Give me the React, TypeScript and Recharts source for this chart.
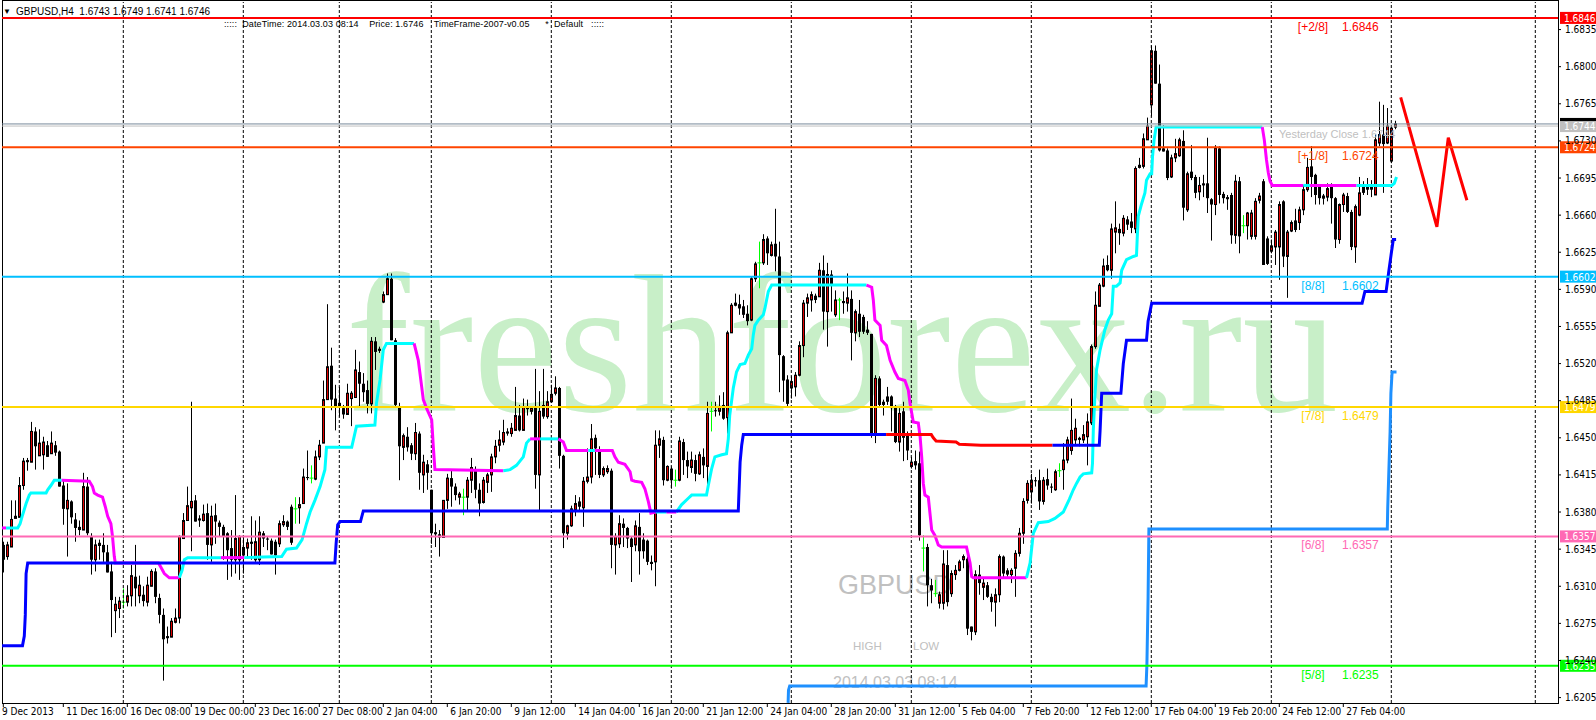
import React from "react";
import { ComposedChart, Bar, Line, XAxis, YAxis, ReferenceLine } from "recharts";

// GBPUSD H4 candles, bars 1..349. Prices kept as the four digits after "1." (6746 -> 1.6746)
const openP = [
  6349, 6338, 6347, 6374, 6375, 6405, 6429, 6427, 6456, 6433, 6434, 6443, 6435, 6443, 6437, 6405, 6383, 6390, 6373, 6366,
  6363, 6404, 6357, 6335, 6351, 6349, 6342, 6324, 6287, 6289, 6295, 6295, 6301, 6319, 6301, 6302, 6295, 6310, 6324, 6299,
  6283, 6263, 6262, 6276, 6280, 6355, 6372, 6384, 6391, 6374, 6372, 6379, 6349, 6377, 6370, 6366, 6360, 6346, 6335, 6335,
  6347, 6346, 6352, 6335, 6335, 6360, 6355, 6353, 6352, 6350, 6368, 6371, 6385, 6383, 6384, 6388, 6413, 6412, 6411, 6432,
  6445, 6486, 6518, 6487, 6483, 6478, 6472, 6487, 6488, 6512, 6501, 6495, 6482, 6541, 6534, 6578, 6585, 6600, 6542, 6479,
  6441, 6451, 6443, 6435, 6454, 6415, 6425, 6401, 6361, 6359, 6356, 6391, 6412, 6404, 6394, 6394, 6394, 6410, 6420, 6401,
  6389, 6408, 6415, 6432, 6443, 6446, 6456, 6454, 6457, 6471, 6457, 6479, 6475, 6479, 6415, 6481, 6470, 6484, 6492, 6497,
  6433, 6360, 6367, 6382, 6390, 6384, 6409, 6413, 6450, 6437, 6415, 6418, 6419, 6349, 6350, 6369, 6365, 6355, 6349, 6366,
  6354, 6353, 6333, 6333, 6443, 6448, 6410, 6421, 6410, 6410, 6446, 6429, 6422, 6429, 6416, 6432, 6423, 6475, 6476, 6475,
  6481, 6469, 6549, 6575, 6576, 6574, 6567, 6561, 6600, 6615, 6615, 6638, 6622, 6633, 6621, 6527, 6505, 6497, 6498, 6509,
  6537, 6577, 6580, 6584, 6583, 6608, 6569, 6604, 6566, 6580, 6579, 6577, 6581, 6549, 6567, 6564, 6552, 6548, 6454, 6506,
  6484, 6489, 6489, 6479, 6446, 6475, 6453, 6423, 6428, 6426, 6346, 6347, 6311, 6303, 6294, 6294, 6330, 6303, 6321, 6325,
  6335, 6336, 6272, 6267, 6321, 6309, 6311, 6300, 6295, 6302, 6338, 6325, 6321, 6327, 6341, 6360, 6391, 6399, 6410, 6410,
  6390, 6411, 6404, 6401, 6419, 6420, 6429, 6438, 6448, 6450, 6448, 6451, 6464, 6536, 6574, 6593, 6613, 6608, 6644, 6647,
  6643, 6656, 6654, 6647, 6705, 6706, 6731, 6764, 6815, 6784, 6723, 6721, 6696, 6714, 6716, 6730, 6665, 6701, 6696, 6682,
  6690, 6690, 6675, 6670, 6723, 6680, 6677, 6679, 6641, 6692, 6650, 6650, 6640, 6640, 6674, 6692, 6638, 6626, 6630, 6630,
  6673, 6621, 6645, 6655, 6653, 6665, 6684, 6706, 6698, 6687, 6676, 6677, 6687, 6676, 6637, 6670, 6678, 6663, 6630, 6660,
  6688, 6687, 6687, 6679, 6728, 6736, 6728, 6711, 6743,
];
const highP = [
  6352, 6352, 6391, 6391, 6413, 6431, 6431, 6465, 6460, 6458, 6451, 6447, 6456, 6447, 6438, 6410, 6407, 6391, 6379, 6372,
  6417, 6413, 6360, 6354, 6354, 6360, 6349, 6333, 6300, 6300, 6308, 6311, 6330, 6349, 6320, 6310, 6319, 6326, 6327, 6303,
  6289, 6272, 6280, 6289, 6358, 6379, 6404, 6484, 6396, 6377, 6387, 6388, 6386, 6388, 6372, 6368, 6361, 6363, 6396, 6358,
  6357, 6355, 6376, 6372, 6376, 6362, 6357, 6355, 6354, 6372, 6377, 6372, 6387, 6394, 6394, 6421, 6438, 6424, 6438, 6448,
  6504, 6576, 6535, 6500, 6498, 6481, 6501, 6494, 6533, 6522, 6511, 6504, 6545, 6545, 6536, 6588, 6605, 6605, 6544, 6483,
  6454, 6460, 6445, 6464, 6456, 6434, 6429, 6401, 6369, 6363, 6391, 6416, 6420, 6407, 6399, 6402, 6413, 6431, 6423, 6407,
  6413, 6417, 6435, 6448, 6457, 6467, 6459, 6464, 6498, 6481, 6487, 6486, 6479, 6515, 6494, 6515, 6494, 6500, 6508, 6498,
  6434, 6368, 6386, 6396, 6394, 6413, 6440, 6463, 6453, 6442, 6423, 6424, 6421, 6360, 6377, 6374, 6366, 6357, 6372, 6379,
  6360, 6354, 6339, 6457, 6457, 6451, 6424, 6423, 6420, 6451, 6449, 6437, 6437, 6434, 6437, 6440, 6484, 6484, 6484, 6490,
  6493, 6551, 6577, 6586, 6585, 6580, 6575, 6602, 6616, 6635, 6642, 6640, 6635, 6666, 6635, 6528, 6509, 6508, 6512, 6541,
  6580, 6586, 6588, 6586, 6615, 6622, 6615, 6608, 6589, 6582, 6588, 6605, 6589, 6571, 6580, 6566, 6560, 6548, 6509, 6508,
  6486, 6498, 6490, 6481, 6478, 6484, 6456, 6432, 6438, 6437, 6358, 6350, 6317, 6316, 6305, 6344, 6344, 6325, 6330, 6335,
  6340, 6338, 6272, 6325, 6330, 6317, 6314, 6303, 6308, 6340, 6339, 6327, 6327, 6344, 6365, 6393, 6410, 6416, 6413, 6420,
  6413, 6421, 6407, 6420, 6426, 6445, 6451, 6487, 6468, 6451, 6462, 6473, 6538, 6588, 6596, 6619, 6622, 6652, 6673, 6652,
  6660, 6659, 6662, 6706, 6714, 6737, 6752, 6820, 6820, 6802, 6745, 6723, 6717, 6732, 6733, 6740, 6701, 6726, 6698, 6696,
  6698, 6733, 6676, 6726, 6725, 6682, 6679, 6681, 6698, 6696, 6660, 6663, 6665, 6676, 6681, 6694, 6640, 6637, 6646, 6673,
  6674, 6646, 6655, 6666, 6668, 6688, 6714, 6725, 6699, 6688, 6680, 6690, 6690, 6677, 6671, 6681, 6681, 6665, 6670, 6696,
  6692, 6695, 6693, 6736, 6767, 6764, 6761, 6744, 6749,
];
const lowP = [
  6323, 6335, 6347, 6374, 6375, 6401, 6419, 6427, 6420, 6433, 6420, 6432, 6435, 6433, 6404, 6368, 6338, 6369, 6352, 6358,
  6363, 6358, 6321, 6324, 6335, 6333, 6323, 6262, 6266, 6280, 6289, 6291, 6291, 6291, 6294, 6291, 6291, 6310, 6294, 6275,
  6221, 6256, 6262, 6275, 6275, 6355, 6372, 6343, 6371, 6366, 6371, 6335, 6333, 6350, 6357, 6335, 6316, 6319, 6322, 6316,
  6322, 6336, 6335, 6333, 6330, 6347, 6344, 6340, 6321, 6347, 6366, 6363, 6349, 6369, 6369, 6388, 6410, 6407, 6410, 6429,
  6445, 6486, 6476, 6457, 6470, 6468, 6472, 6461, 6488, 6479, 6484, 6473, 6473, 6514, 6530, 6577, 6585, 6542, 6479, 6410,
  6429, 6437, 6429, 6429, 6401, 6398, 6401, 6350, 6347, 6338, 6356, 6383, 6385, 6391, 6387, 6377, 6382, 6398, 6393, 6376,
  6388, 6398, 6399, 6426, 6437, 6443, 6452, 6451, 6457, 6456, 6457, 6471, 6472, 6402, 6380, 6468, 6468, 6483, 6490, 6421,
  6346, 6354, 6366, 6376, 6380, 6366, 6407, 6407, 6415, 6412, 6413, 6416, 6327, 6321, 6346, 6347, 6346, 6314, 6343, 6321,
  6336, 6330, 6325, 6310, 6431, 6405, 6409, 6402, 6404, 6409, 6415, 6412, 6417, 6409, 6415, 6412, 6405, 6456, 6470, 6471,
  6467, 6454, 6549, 6574, 6566, 6563, 6556, 6560, 6597, 6591, 6613, 6613, 6621, 6607, 6493, 6484, 6479, 6487, 6489, 6508,
  6526, 6564, 6569, 6577, 6583, 6552, 6536, 6569, 6564, 6561, 6567, 6569, 6523, 6541, 6545, 6548, 6547, 6450, 6445, 6479,
  6471, 6481, 6456, 6445, 6437, 6428, 6429, 6421, 6420, 6353, 6324, 6291, 6294, 6300, 6289, 6288, 6291, 6300, 6316, 6324,
  6327, 6264, 6259, 6264, 6302, 6297, 6299, 6286, 6272, 6295, 6317, 6319, 6313, 6300, 6338, 6350, 6388, 6388, 6404, 6382,
  6387, 6401, 6398, 6400, 6413, 6401, 6426, 6434, 6443, 6442, 6445, 6424, 6462, 6534, 6574, 6592, 6607, 6600, 6624, 6632,
  6640, 6646, 6643, 6643, 6704, 6704, 6731, 6753, 6784, 6720, 6720, 6693, 6695, 6710, 6715, 6655, 6663, 6693, 6676, 6674,
  6677, 6662, 6636, 6660, 6671, 6671, 6665, 6633, 6633, 6624, 6643, 6637, 6637, 6637, 6671, 6613, 6613, 6624, 6613, 6599,
  6611, 6582, 6644, 6644, 6646, 6660, 6682, 6677, 6670, 6670, 6670, 6673, 6652, 6629, 6633, 6663, 6662, 6627, 6615, 6659,
  6679, 6679, 6677, 6679, 6725, 6681, 6727, 6709, 6741,
];
const closeP = [
  6335, 6349, 6373, 6376, 6405, 6428, 6427, 6456, 6442, 6445, 6446, 6432, 6445, 6436, 6404, 6383, 6391, 6375, 6365, 6363,
  6404, 6360, 6335, 6349, 6348, 6342, 6323, 6297, 6293, 6296, 6295, 6301, 6320, 6308, 6311, 6296, 6311, 6324, 6300, 6283,
  6260, 6261, 6277, 6280, 6357, 6372, 6386, 6390, 6371, 6372, 6378, 6349, 6376, 6371, 6366, 6357, 6344, 6335, 6355, 6357,
  6339, 6351, 6350, 6352, 6361, 6355, 6354, 6340, 6339, 6369, 6371, 6366, 6351, 6383, 6387, 6413, 6412, 6412, 6432, 6443,
  6486, 6517, 6486, 6479, 6480, 6472, 6492, 6492, 6514, 6501, 6493, 6482, 6541, 6531, 6532, 6585, 6600, 6542, 6481, 6442,
  6452, 6441, 6435, 6455, 6417, 6427, 6417, 6360, 6359, 6356, 6391, 6412, 6404, 6396, 6397, 6394, 6410, 6422, 6401, 6388,
  6410, 6415, 6432, 6442, 6448, 6455, 6454, 6459, 6471, 6457, 6479, 6477, 6478, 6415, 6475, 6470, 6484, 6491, 6497, 6433,
  6360, 6367, 6383, 6388, 6385, 6409, 6413, 6449, 6440, 6415, 6421, 6421, 6349, 6357, 6369, 6365, 6355, 6347, 6367, 6343,
  6343, 6333, 6331, 6443, 6449, 6410, 6423, 6410, 6410, 6447, 6429, 6423, 6429, 6416, 6434, 6424, 6473, 6475, 6475, 6479,
  6468, 6549, 6575, 6577, 6572, 6566, 6560, 6600, 6614, 6615, 6637, 6624, 6632, 6621, 6528, 6504, 6482, 6503, 6509, 6537,
  6577, 6582, 6585, 6580, 6608, 6569, 6604, 6594, 6580, 6580, 6577, 6582, 6549, 6569, 6550, 6550, 6549, 6454, 6506, 6481,
  6481, 6484, 6478, 6446, 6473, 6450, 6438, 6427, 6424, 6358, 6346, 6311, 6306, 6303, 6302, 6331, 6295, 6322, 6325, 6333,
  6338, 6270, 6267, 6321, 6313, 6313, 6300, 6295, 6302, 6338, 6322, 6321, 6325, 6341, 6360, 6390, 6407, 6410, 6409, 6390,
  6410, 6405, 6403, 6418, 6419, 6429, 6448, 6457, 6459, 6448, 6453, 6465, 6536, 6575, 6594, 6612, 6608, 6647, 6648, 6643,
  6657, 6651, 6648, 6704, 6707, 6732, 6744, 6815, 6784, 6721, 6720, 6695, 6714, 6718, 6731, 6667, 6699, 6695, 6681, 6688,
  6688, 6676, 6670, 6723, 6679, 6676, 6675, 6641, 6692, 6640, 6650, 6662, 6662, 6673, 6678, 6613, 6614, 6631, 6644, 6670,
  6621, 6644, 6653, 6646, 6665, 6684, 6705, 6696, 6679, 6676, 6678, 6685, 6676, 6637, 6670, 6679, 6663, 6630, 6668, 6681,
  6681, 6684, 6684, 6731, 6736, 6727, 6744, 6742, 6746,
];

// indicator lines: [bar, price, state]; state colours the piece up to the next point
const trailLine: [number, number, number][] = [
  [0.7, 6365, -1], [1.7, 6365, 1], [4.6, 6365, 1], [5.2, 6369, 1], [5.8, 6377, 1], [6.7, 6388, 1], [7.5, 6396, 1],
  [7.9, 6398, 1], [11.7, 6398, 1], [12.1, 6401, 1], [12.9, 6405, 1], [13.75, 6410, 1], [15.6, 6410, -1], [22.5, 6409, -1],
  [23.3, 6404, -1], [23.75, 6398, -1], [24.6, 6396, -1], [25.8, 6394, -1], [26.5, 6385, -1], [27.1, 6376, -1],
  [27.9, 6369, -1], [28.3, 6357, -1], [28.75, 6338, -1], [29, 6332, -1], [39.8, 6332, -1], [40.4, 6328, -1],
  [41.25, 6322, -1], [42.5, 6318, -1], [45, 6318, 1], [45.7, 6325, 1], [46.25, 6335, 1], [47.1, 6337, 1],
  [55.4, 6337, -1], [61.25, 6337, 1], [70.6, 6338, 1], [71.8, 6345, 1], [74.3, 6346, 1], [75.7, 6354, 1],
  [76.8, 6369, 1], [77.7, 6380, 1], [78.9, 6391, 1], [80.2, 6404, 1], [81.4, 6420, 1], [81.8, 6441, 1], [88.1, 6441, 1],
  [89.3, 6461, 1], [93.9, 6462, 1], [94.3, 6483, 1], [95.2, 6505, 1], [96, 6533, 1], [96.8, 6539, 1], [103.7, 6539, -1],
  [104.75, 6523, -1], [105.6, 6498, -1], [106, 6486, -1], [106.8, 6478, -1], [108.1, 6467, -1], [108.5, 6442, -1],
  [108.9, 6420, -1], [126, 6419, 1], [127.7, 6420, 1], [129.3, 6424, 1], [131, 6432, 1], [131.8, 6445, 1],
  [132.7, 6449, -1], [135.2, 6449, 1], [139.75, 6449, -1], [141, 6446, -1], [141.8, 6438, -1], [147.25, 6438, 1],
  [148.9, 6438, -1], [153.25, 6438, -1], [153.9, 6432, -1], [154.75, 6427, -1], [156.4, 6425, -1], [157.7, 6418, -1],
  [158.1, 6410, -1], [158.9, 6409, -1], [160.6, 6408, -1], [161.4, 6402, -1], [162.25, 6390, -1], [162.9, 6379, -1],
  [164.1, 6380, 1], [166.8, 6380, -1], [169.25, 6380, 1], [170.6, 6387, 1], [172.25, 6393, 1], [173.1, 6396, 1],
  [176.8, 6396, 1], [177.25, 6405, 1], [178.1, 6421, 1], [178.9, 6432, 1], [180.6, 6434, 1], [181.8, 6435, 1],
  [182.25, 6449, 1], [182.6, 6471, 1], [183.5, 6497, 1], [184.3, 6512, 1], [185.2, 6519, 1], [186.4, 6520, 1],
  [187.25, 6528, 1], [188.1, 6534, 1], [188.5, 6547, 1], [188.9, 6556, 1], [189.75, 6561, 1], [191, 6566, 1],
  [191.4, 6572, 1], [192.25, 6588, 1], [193.1, 6594, 1], [216.8, 6594, -1], [218.1, 6592, -1], [218.5, 6580, -1],
  [218.9, 6561, -1], [220.2, 6556, -1], [220.6, 6542, -1], [221.8, 6537, -1], [222.7, 6523, -1], [223.9, 6512, -1],
  [224.75, 6506, -1], [226.4, 6504, -1], [227.25, 6495, -1], [227.7, 6482, -1], [228.5, 6465, -1], [229.75, 6464, -1],
  [230.2, 6451, -1], [230.6, 6432, -1], [231, 6407, -1], [231.4, 6396, -1], [232.25, 6394, -1], [233.1, 6363, -1],
  [233.9, 6358, -1], [234.75, 6349, -1], [235.6, 6347, -1], [241.8, 6347, -1], [242.7, 6332, -1], [243.1, 6319, -1],
  [243.5, 6318, -1], [256.8, 6318, 1], [257.7, 6332, 1], [258.5, 6360, 1], [259.75, 6370, 1], [262.25, 6371, 1],
  [263.9, 6374, 1], [266, 6380, 1], [267.5, 6392, 1], [268.5, 6401, 1], [269.3, 6407, 1], [270.2, 6413, 1],
  [271, 6416, 1], [273.1, 6417, 1], [273.3, 6426, 1], [273.5, 6457, 1], [273.9, 6489, 1], [274.3, 6514, 1],
  [275.2, 6533, 1], [276.4, 6552, 1], [277.25, 6561, 1], [278.1, 6567, 1], [278.5, 6593, 1], [279.3, 6593, 1],
  [280.2, 6596, 1], [280.6, 6608, 1], [281.8, 6618, 1], [283.5, 6621, 1], [284.3, 6622, 1], [284.5, 6640, 1],
  [284.75, 6659, 1], [285.6, 6671, 1], [286.4, 6681, 1], [286.8, 6693, 1], [287.7, 6699, 1], [288.1, 6699, 1],
  [288.3, 6715, 1], [288.7, 6731, 1], [289.2, 6743, 1], [315.75, 6743, -1], [316.25, 6731, -1], [316.8, 6712, -1],
  [317.25, 6700, -1], [317.7, 6692, -1], [318.25, 6688, -1], [326, 6688, 1], [327.7, 6688, -1], [339.3, 6688, 1],
  [348.1, 6688, 1], [348.75, 6690, 1], [349.3, 6696, 1],
];
const supportLine: [number, number, number][] = [
  [0.7, 6254, 1], [5.8, 6254, 1], [6.25, 6263, 1], [6.5, 6283, 1], [6.7, 6322, 1], [7.1, 6332, 1], [83.9, 6332, 1],
  [84.2, 6350, 1], [84.6, 6368, 1], [85.2, 6371, 1], [90.3, 6371, 1], [91, 6381, 1], [184.75, 6381, 1],
  [185.2, 6427, 1], [185.6, 6443, 1], [186, 6453, 1], [221.7, 6453, -1], [233, 6453, -1], [233.5, 6450, -1],
  [234.2, 6447, -1], [239.2, 6446, -1], [240, 6444, -1], [245.4, 6443, -1], [263.3, 6443, 1], [275, 6443, 1],
  [275.2, 6457, 1], [275.6, 6492, 1], [280.4, 6492, 1], [281, 6520, 1], [281.8, 6542, 1], [286.8, 6542, 1],
  [287.2, 6560, 1], [288.1, 6577, 1], [340.7, 6577, 1], [341.4, 6588, 1], [346.7, 6588, 1], [347.3, 6605, 1],
  [348, 6624, 1], [348.5, 6637, 1], [349.2, 6637, 1],
];
const longLineBars = [197.2, 197.3, 197.6, 286.7, 286.9, 287.2, 287.4, 347, 347.1, 347.4, 347.7, 347.9, 348.2, 349.3];
const longLineValues = [6200, 6212, 6216, 6216, 6236, 6300, 6364, 6364, 6383, 6420, 6456, 6492, 6512, 6512];
const forecastBars = [350.35, 359.4, 362.25, 366.9];
const forecastValues = [6771, 6649, 6733, 6674];

const levelValues = [6846, 6724, 6602, 6479, 6357, 6235];
const levelNames = ["[+2/8]", "[+1/8]", "[8/8]", "[7/8]", "[6/8]", "[5/8]"];
const levelColors = ["#ff0000", "#ff4500", "#00bfff", "#ffd700", "#ff69b4", "#00ff00"];
const bidPrice = 6746;
const yesterdayClose = 6744;

const separatorBars = [31, 61, 85, 108, 138, 168, 198, 228, 258, 288, 318, 348, 384];
const timeTickBars = [1, 16, 32, 48, 64, 80, 96, 112, 128, 144, 160, 176, 192, 208, 224, 240, 256, 272, 288, 304, 320, 336];
const timeLabels = [
  "9 Dec 2013", "11 Dec 16:00", "16 Dec 08:00", "19 Dec 00:00", "23 Dec 16:00", "27 Dec 08:00", "2 Jan 04:00",
  "6 Jan 20:00", "9 Jan 12:00", "14 Jan 04:00", "16 Jan 20:00", "21 Jan 12:00", "24 Jan 04:00", "28 Jan 20:00",
  "31 Jan 12:00", "5 Feb 04:00", "7 Feb 20:00", "12 Feb 12:00", "17 Feb 04:00", "19 Feb 20:00", "24 Feb 12:00",
  "27 Feb 04:00",
];
const priceTicks = [
  6205, 6240, 6275, 6310, 6345, 6380, 6415, 6450, 6485, 6520, 6555, 6590, 6625, 6660, 6695, 6730, 6765, 6800, 6835,
];

const AXIS_FONT = "'Liberation Sans Narrow', 'DejaVu Sans Condensed', 'Liberation Sans', sans-serif";
const SANS = "'Liberation Sans', Arial, sans-serif";
const fmt = (v: number) => "1." + v;

const candles = openP.map((o, k) => ({
  i: k + 1,
  range: [lowP[k], highP[k]],
  o,
  h: highP[k],
  l: lowP[k],
  c: closeP[k],
}));

function splitRuns(points: [number, number, number][]) {
  const out: { state: number; data: { i: number; v: number }[] }[] = [];
  for (let k = 0; k < points.length - 1; k++) {
    const [i, v, s] = points[k];
    const [i2, v2] = points[k + 1];
    const last = out[out.length - 1];
    if (last && last.state === s) last.data.push({ i: i2, v: v2 });
    else out.push({ state: s, data: [{ i, v }, { i: i2, v: v2 }] });
  }
  return out;
}

const trailRuns = splitRuns(trailLine);
const supportRuns = splitRuns(supportLine);
const longLine = longLineBars.map((i, k) => ({ i, v: longLineValues[k] }));
const forecast = forecastBars.map((i, k) => ({ i, v: forecastValues[k] }));

function Candle(props: any) {
  const { x, width, y, height, payload } = props;
  if (!payload || height == null) return null;
  const { o, h, l, c } = payload;
  const cx = Math.round(x + width / 2) + 0.5;
  const py = (p: number) => y + ((h - p) / (h - l)) * height;
  const top = py(Math.max(o, c));
  const bot = py(Math.min(o, c));
  if (o === c) {
    return (
      <g>
        <line x1={cx} x2={cx} y1={y} y2={y + height} stroke="#00ff00" />
        <line x1={cx - 2} x2={cx + 2} y1={top} y2={top} stroke="#00ff00" />
      </g>
    );
  }
  const bull = c > o;
  return (
    <g>
      <line x1={cx} x2={cx} y1={y} y2={y + height} stroke="#000" />
      {bull ? (
        <rect x={cx - 1} y={top} width={2} height={Math.max(bot - top, 1)} fill="#e00000" stroke="#000" strokeWidth={1} />
      ) : (
        <rect x={cx - 1.5} y={top} width={3} height={Math.max(bot - top, 1)} fill="#000" />
      )}
    </g>
  );
}

function TimeTick(props: any) {
  const { x, y, payload } = props;
  const idx = timeTickBars.indexOf(payload.value);
  return (
    <g>
      <line x1={x} x2={x} y1={y} y2={y + 4} stroke="#000" />
      <text x={idx === 0 ? 2 : x + 3} y={y + 12} fontSize={10} fontFamily={AXIS_FONT} fill="#000">
        {timeLabels[idx]}
      </text>
    </g>
  );
}

function PriceTick(props: any) {
  const { x, y, payload } = props;
  return (
    <g>
      <line x1={x} x2={x + 3} y1={y} y2={y} stroke="#000" />
      <text x={x + 7} y={y + 3.5} fontSize={10} fontFamily={AXIS_FONT} fill="#000">
        {fmt(payload.value)}
      </text>
    </g>
  );
}

function LevelLabel({ viewBox, name, value, color }: any) {
  if (!viewBox) return null;
  const ly = viewBox.y;
  const right = viewBox.x + viewBox.width;
  return (
    <g>
      <text x={1313} y={ly + 13} textAnchor="middle" fontSize={12} fontFamily={SANS} fill={color}>
        {name}
      </text>
      <text x={1342} y={ly + 13} fontSize={12} fontFamily={SANS} fill={color}>
        {fmt(value)}
      </text>
      <rect x={right + 2} y={ly - 6} width={40} height={12} fill={color} />
      <text x={right + 6} y={ly + 4} fontSize={10} fontFamily={AXIS_FONT} fill="#fff">
        {fmt(value)}
      </text>
    </g>
  );
}

function CloseLabel({ viewBox, value }: any) {
  if (!viewBox) return null;
  const ly = viewBox.y;
  const right = viewBox.x + viewBox.width;
  return (
    <g>
      <text x={1279} y={ly + 12} fontSize={11} fontFamily={SANS} fill="#c0c0c0">
        Yesterday Close {fmt(value)}
      </text>
      <rect x={right + 2} y={ly - 5} width={40} height={11} fill="#c0c0c0" />
      <text x={right + 6} y={ly + 4} fontSize={10} fontFamily={AXIS_FONT} fill="#fff">
        {fmt(value)}
      </text>
    </g>
  );
}

function BidLabel({ viewBox }: any) {
  if (!viewBox) return null;
  const right = viewBox.x + viewBox.width;
  return <rect x={right + 2} y={viewBox.y - 6} width={40} height={12} fill="#000" />;
}

function Backdrop() {
  return (
    <svg width={1596} height={720} style={{ position: "absolute", left: 0, top: 0 }}>
      <rect x={2.5} y={0.5} width={1556} height={703} fill="none" stroke="#000" />
      <text
        x={346}
        y={411}
        fontFamily="'Liberation Serif', 'Times New Roman', serif"
        fontSize={198}
        fill="#c8efc8"
        textLength={992}
        lengthAdjust="spacingAndGlyphs"
      >
        freshforex.ru
      </text>
      <text x={838} y={594} fontSize={27} fontFamily={SANS} fill="#c0c0c0">GBPUSD</text>
      <text x={853} y={650} fontSize={11.5} fontFamily={SANS} fill="#c0c0c0">HIGH</text>
      <text x={913} y={650} fontSize={11.5} fontFamily={SANS} fill="#c0c0c0">LOW</text>
      <text x={833} y={688} fontSize={16} fontFamily={SANS} fill="#c0c0c0">2014.03.03 08:14</text>
      <text x={3} y={14} fontSize={8} fontFamily={SANS} fill="#000">▼</text>
      <text x={16} y={15} fontSize={10} fontFamily={SANS} fill="#000" style={{ whiteSpace: "pre" }}>
        GBPUSD,H4  1.6743 1.6749 1.6741 1.6746
      </text>
      <text
        x={224}
        y={27}
        fontSize={9}
        fontFamily={SANS}
        fill="#000"
        style={{ whiteSpace: "pre" }}
        textLength={380}
        lengthAdjust="spacing"
      >
        {":::::  DateTime: 2014.03.03 08:14    Price: 1.6746    TimeFrame-2007-v0.05      *  Default   :::::"}
      </text>
    </svg>
  );
}

export default function App() {
  return (
    <div style={{ position: "absolute", left: 0, top: 0, width: 1596, height: 720, background: "#fff", overflow: "hidden" }}>
      <Backdrop />
      <div style={{ position: "absolute", left: 0, top: 0 }}>
        <ComposedChart width={1596} height={720} data={candles} margin={{ top: 2, right: 0, bottom: 0, left: 2 }}>
          <XAxis
            dataKey="i"
            type="number"
            domain={[0.675, 389.675]}
            allowDataOverflow
            ticks={timeTickBars}
            interval={0}
            tick={<TimeTick />}
            tickSize={0}
            tickMargin={0}
            axisLine={false}
            tickLine={false}
            height={17}
          />
          <YAxis
            orientation="right"
            type="number"
            domain={[6199.9, 6861]}
            allowDataOverflow
            ticks={priceTicks}
            interval={0}
            tick={<PriceTick />}
            tickSize={0}
            tickMargin={0}
            axisLine={false}
            tickLine={false}
            width={38}
          />
          {separatorBars.map((b) => (
            <ReferenceLine key={"s" + b} x={b} stroke="#000" strokeDasharray="3 2" ifOverflow="visible" />
          ))}
          <Bar dataKey="range" barSize={3} isAnimationActive={false} shape={(p: any) => <Candle {...p} />} />
          {trailRuns.map((r, k) => (
            <Line
              key={"t" + k}
              data={r.data}
              dataKey="v"
              type="linear"
              stroke={r.state > 0 ? "#00ffff" : "#ff00ff"}
              strokeWidth={3}
              dot={false}
              activeDot={false}
              isAnimationActive={false}
            />
          ))}
          {supportRuns.map((r, k) => (
            <Line
              key={"b" + k}
              data={r.data}
              dataKey="v"
              type="linear"
              stroke={r.state > 0 ? "#0000ff" : "#ff0000"}
              strokeWidth={3}
              dot={false}
              activeDot={false}
              isAnimationActive={false}
            />
          ))}
          <Line data={longLine} dataKey="v" type="linear" stroke="#1e90ff" strokeWidth={3} dot={false} activeDot={false} isAnimationActive={false} />
          <Line data={forecast} dataKey="v" type="linear" stroke="#ff0000" strokeWidth={3} dot={false} activeDot={false} isAnimationActive={false} />
          <ReferenceLine y={bidPrice} stroke="#778899" strokeWidth={1} label={(p: any) => <BidLabel viewBox={p.viewBox} />} />
          <ReferenceLine
            y={yesterdayClose}
            stroke="#c0c0c0"
            strokeWidth={1}
            label={(p: any) => <CloseLabel viewBox={p.viewBox} value={yesterdayClose} />}
          />
          {levelValues.map((v, k) => (
            <ReferenceLine
              key={"l" + v}
              y={v}
              stroke={levelColors[k]}
              strokeWidth={2}
              label={(p: any) => <LevelLabel viewBox={p.viewBox} name={levelNames[k]} value={v} color={levelColors[k]} />}
            />
          ))}
        </ComposedChart>
      </div>
    </div>
  );
}
